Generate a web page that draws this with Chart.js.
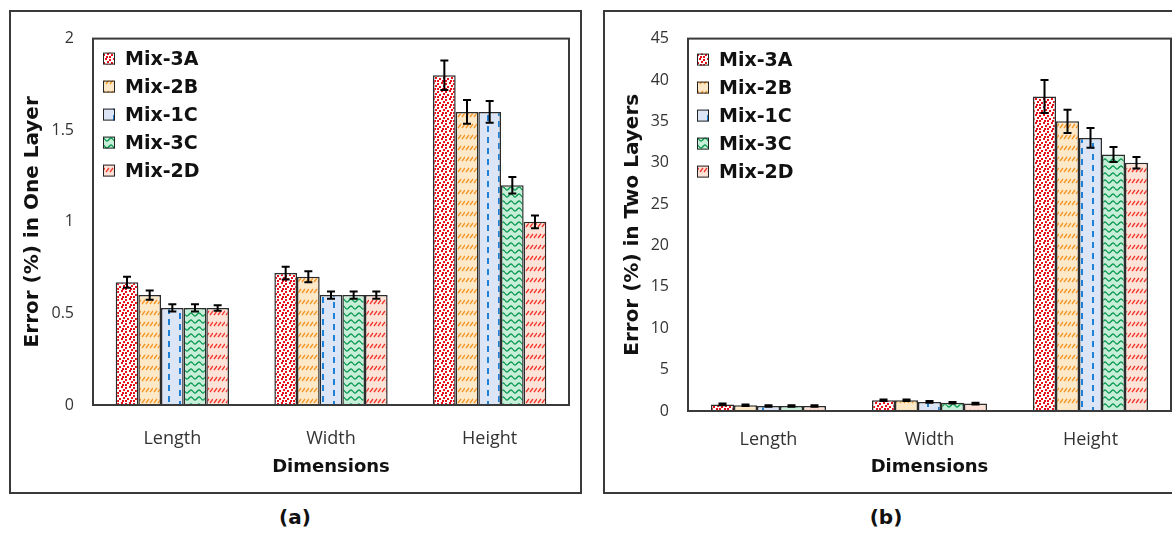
<!DOCTYPE html>
<html>
<head>
<meta charset="utf-8">
<script src="https://cdn.jsdelivr.net/npm/chart.js@4.4.0/dist/chart.umd.min.js"></script>
<style>
  body { margin: 0; width: 1172px; height: 533px; background: #fff; overflow: hidden; position: relative; }
  .panel { position: absolute; top: 10px; height: 484px; }
  .frame { position: absolute; top: 10px; height: 484px; box-sizing: border-box; border: 2px solid #3a3a3a; pointer-events: none; }
  .tag { position: absolute; top: 505px; font: bold 20px "DejaVu Sans", sans-serif; color: #111; width: 60px; text-align: center; }
</style>
</head>
<body>
<div class="panel" style="left:9px;width:572px"><canvas id="chartA" width="572" height="484"></canvas></div>
<div class="frame" style="left:9px;width:573px"></div>
<div class="panel" style="left:603px;width:571px"><canvas id="chartB" width="571" height="484"></canvas></div>
<div class="frame" style="left:603px;width:575px"></div>
<div class="tag" style="left:265px">(a)</div>
<div class="tag" style="left:856px">(b)</div>

<script>
// categories and series
const categories = ['Length', 'Width', 'Height'];
const mixLabels = ['Mix-3A', 'Mix-2B', 'Mix-1C', 'Mix-3C', 'Mix-2D'];

// (a) error in one layer
const oneMix3A = [0.67, 0.72, 1.80];
const oneMix2B = [0.60, 0.70, 1.60];
const oneMix1C = [0.53, 0.60, 1.60];
const oneMix3C = [0.53, 0.60, 1.20];
const oneMix2D = [0.53, 0.60, 1.00];
const oneErr3A = [0.03, 0.035, 0.08];
const oneErr2B = [0.025, 0.03, 0.065];
const oneErr1C = [0.02, 0.02, 0.06];
const oneErr3C = [0.02, 0.02, 0.045];
const oneErr2D = [0.015, 0.02, 0.035];

// (b) error in two layers
const twoMix3A = [0.8, 1.3, 38];
const twoMix2B = [0.7, 1.3, 35];
const twoMix1C = [0.6, 1.1, 33];
const twoMix3C = [0.6, 1.0, 31];
const twoMix2D = [0.6, 0.9, 30];
const twoErr3A = [0.1, 0.1, 2.0];
const twoErr2B = [0.1, 0.1, 1.4];
const twoErr1C = [0.1, 0.1, 1.2];
const twoErr3C = [0.1, 0.1, 0.9];
const twoErr2D = [0.1, 0.1, 0.7];

// y ticks
const oneTicks = { min: 0, max: 2, step: 0.5 };
const twoTicks = { min: 0, max: 45, step: 5 };

const boldFont = '"DejaVu Sans"';
const tickFont = '"Open Sans"';

// hatch fills, like the excel pattern fills
function tile(w, h, bg, draw) {
  const c = document.createElement('canvas');
  c.width = w; c.height = h;
  const g = c.getContext('2d');
  g.fillStyle = bg;
  g.fillRect(0, 0, w, h);
  draw(g);
  return document.createElement('canvas').getContext('2d').createPattern(c, 'repeat');
}

function slashes(g, color) {
  g.strokeStyle = color; g.lineWidth = 1.3;
  for (let x = 1; x < 12; x += 4) { g.beginPath(); g.moveTo(x, 8); g.lineTo(x + 3, 4); g.stroke(); }
}

const patterns = [
  tile(8, 8, '#ffffff', g => {
    g.fillStyle = '#e8101a';
    [[0, 0], [4, 1], [2, 3], [6, 4], [1, 6], [4, 6]].forEach(p => g.fillRect(p[0], p[1], 2, 2));
  }),
  tile(12, 11, '#fde9c8', g => slashes(g, '#f39322')),
  tile(22, 11, '#dbe5f5', g => {
    g.fillStyle = '#1f80d8';
    g.fillRect(5, 1, 2, 6);
    g.fillRect(16, 6, 2, 5);
    g.fillRect(16, 0, 2, 1);
  }),
  tile(8, 7, '#c6eed8', g => {
    g.strokeStyle = '#0b9a50'; g.lineWidth = 1.4;
    g.beginPath();
    for (let x = 0; x <= 8; x += 0.5) {
      const y = 3.5 + 1.5 * Math.sin(x / 8 * Math.PI * 2);
      if (x === 0) g.moveTo(x, y); else g.lineTo(x, y);
    }
    g.stroke();
  }),
  tile(12, 11, '#fde2d7', g => slashes(g, '#f0362c'))
];

const boxAndErrors = {
  id: 'boxAndErrors',
  afterDatasetsDraw(chart) {
    const { ctx, chartArea: a } = chart;
    const y = chart.scales.y;
    ctx.save();
    ctx.strokeStyle = '#000';
    ctx.lineWidth = 2;
    chart.data.datasets.forEach((ds, i) => {
      chart.getDatasetMeta(i).data.forEach((bar, j) => {
        const v = ds.data[j], e = ds.errors[j];
        const top = y.getPixelForValue(v + e), bot = y.getPixelForValue(v - e);
        ctx.beginPath();
        ctx.moveTo(bar.x, top); ctx.lineTo(bar.x, bot);
        ctx.moveTo(bar.x - 4, top); ctx.lineTo(bar.x + 4, top);
        ctx.moveTo(bar.x - 4, bot); ctx.lineTo(bar.x + 4, bot);
        ctx.stroke();
      });
    });
    ctx.strokeStyle = '#3a3a3a';
    ctx.lineWidth = 2;
    ctx.strokeRect(a.left, a.top, a.right - a.left, a.bottom - a.top);
    ctx.restore();
  }
};

const insideLegend = {
  id: 'insideLegend',
  afterDraw(chart, args, opts) {
    const { ctx, chartArea: a } = chart;
    ctx.save();
    ctx.font = 'bold 19px ' + boldFont;
    ctx.textBaseline = 'middle';
    chart.data.datasets.forEach((ds, i) => {
      const cy = a.top + opts.top + i * 28;
      const x = a.left + opts.left;
      ctx.fillStyle = ds.backgroundColor;
      ctx.fillRect(x, cy - 6, 12, 12);
      ctx.strokeStyle = '#222';
      ctx.lineWidth = 1;
      ctx.strokeRect(x + 0.5, cy - 5.5, 11, 11);
      ctx.fillStyle = '#111';
      ctx.fillText(ds.label, x + 22, cy + 1);
    });
    ctx.restore();
  }
};

function makeChart(id, series, errors, ticks, yTitle, g) {
  const datasets = series.map((d, i) => ({
    label: mixLabels[i],
    data: d,
    errors: errors[i],
    backgroundColor: patterns[i],
    borderColor: '#2b2b2b',
    borderWidth: 1.5,
    categoryPercentage: 0.714,
    barPercentage: 1
  }));
  const canvas = document.getElementById(id);
  return new Chart(canvas, {
    type: 'bar',
    data: { labels: categories, datasets: datasets },
    plugins: [boxAndErrors, insideLegend],
    options: {
      responsive: false,
      animation: false,
      layout: { padding: { left: 0, top: g.top, right: canvas.width - g.right, bottom: 0 } },
      plugins: {
        legend: { display: false },
        tooltip: { enabled: false },
        insideLegend: { left: g.legLeft, top: g.legTop }
      },
      scales: {
        x: {
          grid: { display: false, drawTicks: false },
          border: { display: false },
          ticks: { color: '#333', font: { family: tickFont, size: 18 }, padding: g.xPad },
          title: { display: true, text: 'Dimensions', color: '#111', font: { family: boldFont, size: 18, weight: 'bold' }, padding: { top: 0, bottom: 16 } },
          afterFit: s => { s.height = canvas.height - g.bottom; }
        },
        y: {
          min: ticks.min, max: ticks.max,
          grid: { display: false, drawTicks: false },
          border: { display: false },
          ticks: { stepSize: ticks.step, color: '#333', font: { family: tickFont, size: 16 }, padding: 19,
                   callback: v => String(v) },
          title: { display: true, text: yTitle, color: '#111', font: { family: boldFont, size: 20, weight: 'bold' }, padding: { top: g.titlePad, bottom: 0 } },
          afterFit: s => { s.width = g.left; }
        }
      }
    }
  });
}

makeChart('chartA',
  [oneMix3A, oneMix2B, oneMix1C, oneMix3C, oneMix2D],
  [oneErr3A, oneErr2B, oneErr1C, oneErr3C, oneErr2D],
  oneTicks, 'Error (%) in One Layer',
  { left: 84, top: 15, right: 560, bottom: 395, xPad: 23, titlePad: 12, legLeft: 10, legTop: 20 });

makeChart('chartB',
  [twoMix3A, twoMix2B, twoMix1C, twoMix3C, twoMix2D],
  [twoErr3A, twoErr2B, twoErr1C, twoErr3C, twoErr2D],
  twoTicks, 'Error (%) in Two Layers',
  { left: 85, top: 17, right: 568, bottom: 401, xPad: 18, titlePad: 18, legLeft: 9, legTop: 21 });
</script>
</body>
</html>
